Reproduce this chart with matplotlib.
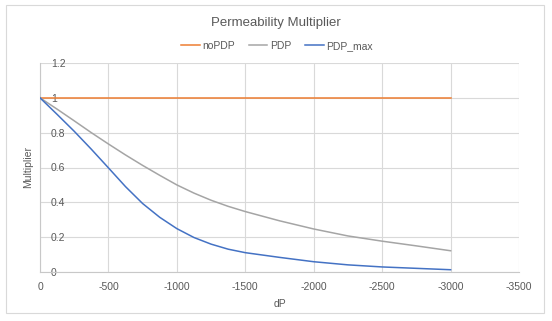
import matplotlib.pyplot as plt
from matplotlib.patches import Rectangle

# Data
dp = [0, -125, -250, -375, -500, -625, -750, -875, -1000, -1125, -1250, -1375, -1500,
      -1750, -2000, -2250, -2500, -2750, -3000]
no_pdp = [1] * len(dp)
pdp = [1, 0.935, 0.868, 0.80, 0.735, 0.672, 0.612, 0.555, 0.5, 0.453, 0.412, 0.377, 0.347,
       0.294, 0.247, 0.207, 0.177, 0.150, 0.122]
pdp_max = [1, 0.905, 0.808, 0.705, 0.598, 0.490, 0.393, 0.314, 0.249, 0.198, 0.16, 0.131, 0.111,
           0.084, 0.059, 0.041, 0.029, 0.021, 0.013]

x_ticks = [0, -500, -1000, -1500, -2000, -2500, -3000, -3500]
y_ticks = [0, 0.2, 0.4, 0.6, 0.8, 1, 1.2]

TEXT = '#595959'
GRID = '#D9D9D9'

plt.rcParams['font.family'] = ['Liberation Sans', 'DejaVu Sans']

fig = plt.figure(figsize=(5.52, 3.21), dpi=100)
ax = fig.add_axes([40/552, 1-272/321, (519-40)/552, (272-63)/321])

ax.plot(dp, no_pdp, color='#ED7D31', lw=1.1, label='noPDP', zorder=3)
ax.plot(dp, pdp, color='#A5A5A5', lw=1.1, label='PDP', zorder=3, solid_joinstyle='round')
ax.plot(dp, pdp_max, color='#4472C4', lw=1.1, label='PDP_max', zorder=3, solid_joinstyle='round')

ax.set_xlim(0, -3500)
ax.set_ylim(0, 1.2)
ax.set_xticks(x_ticks)
ax.set_xticklabels([str(v) for v in x_ticks])
ax.set_yticks(y_ticks)
ax.set_yticklabels(['0', '0.2', '0.4', '0.6', '0.8', '1', '1.2'])

ax.grid(True, color=GRID, lw=0.8)
ax.set_axisbelow(True)
for s in ['top', 'right']:
    ax.spines[s].set_visible(False)
for s in ['left', 'bottom']:
    ax.spines[s].set_color('#C8C8C8')
    ax.spines[s].set_linewidth(0.8)

ax.tick_params(axis='x', length=0, pad=7.5, labelsize=7.5, labelcolor=TEXT)
ax.tick_params(axis='y', length=0, pad=-8, labelsize=7.5, labelcolor=TEXT)
for lab in ax.get_yticklabels():
    lab.set_horizontalalignment('left')

ax.set_xlabel('dP', fontsize=7.5, color=TEXT, labelpad=4.5)
ax.set_ylabel('Multiplier', fontsize=7.5, color=TEXT)
ax.yaxis.set_label_coords(-0.014, 0.5)

fig.text(276/552, 1-23/321, 'Permeability Multiplier', ha='center', va='center',
         fontsize=9.5, color=TEXT)

fig.legend(loc='center', bbox_to_anchor=(277/552, 1-46/321), ncol=3, frameon=False,
           fontsize=7.5, labelcolor=TEXT, handlelength=1.8, handletextpad=0.25,
           columnspacing=1.3)

fig.patches.append(Rectangle((6/552, 1-313/321), (544-6)/552, (313-5)/321,
                             transform=fig.transFigure, fill=False,
                             edgecolor=GRID, lw=0.8))

fig.savefig('out.png', dpi=100, facecolor='white')
